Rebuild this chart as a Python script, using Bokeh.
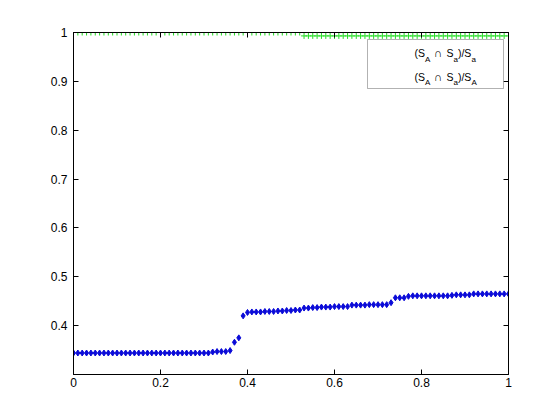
from bokeh.plotting import figure
from bokeh.models import LinearAxis, FixedTicker, Label, BoxAnnotation, Range1d
from bokeh.embed import file_html
from bokeh.resources import INLINE

# ---------------- data ----------------
X = [i / 100 for i in range(101)]

# (S_A ∩ S_a)/S_a  -- blue diamonds
RATIO_SA = [
    0.344, 0.344, 0.344, 0.344, 0.344, 0.344, 0.344, 0.344, 0.344, 0.344,
    0.344, 0.344, 0.344, 0.344, 0.344, 0.344, 0.344, 0.344, 0.344, 0.344,
    0.344, 0.344, 0.344, 0.344, 0.344, 0.344, 0.344, 0.344, 0.344, 0.344,
    0.344, 0.344, 0.346, 0.347, 0.347, 0.347, 0.349, 0.366, 0.375, 0.420,
    0.427, 0.428, 0.428, 0.428, 0.429, 0.429, 0.429, 0.430, 0.430, 0.431,
    0.431, 0.432, 0.432, 0.436, 0.436, 0.437, 0.437, 0.438, 0.438, 0.438,
    0.439, 0.439, 0.439, 0.439, 0.442, 0.442, 0.442, 0.442, 0.443, 0.443,
    0.443, 0.443, 0.443, 0.447, 0.457, 0.457, 0.457, 0.460, 0.461, 0.461,
    0.461, 0.461, 0.461, 0.461, 0.461, 0.461, 0.461, 0.462, 0.463, 0.463,
    0.463, 0.463, 0.465, 0.465, 0.465, 0.465, 0.465, 0.465, 0.465, 0.465,
    0.465,
]

# (S_A ∩ S_a)/S_A  -- green crosses
RATIO_SCAPA = [
    1.0, 1.0, 1.0, 1.0, 1.0, 1.0, 1.0, 1.0, 1.0, 1.0,
    1.0, 1.0, 1.0, 1.0, 1.0, 1.0, 1.0, 1.0, 1.0, 1.0,
    1.0, 1.0, 1.0, 1.0, 1.0, 1.0, 1.0, 1.0, 1.0, 1.0,
    1.0, 1.0, 1.0, 1.0, 1.0, 1.0, 1.0, 1.0, 1.0, 1.0,
    1.0, 1.0, 1.0, 1.0, 1.0, 1.0, 1.0, 1.0, 1.0, 1.0,
    1.0, 1.0, 1.0, 0.993, 0.993, 0.993, 0.993, 0.993, 0.993, 0.993,
    0.993, 0.993, 0.993, 0.993, 0.993, 0.993, 0.993, 0.993, 0.993, 0.993,
    0.993, 0.993, 0.993, 0.993, 0.993, 0.993, 0.993, 0.993, 0.993, 0.993,
    0.993, 0.993, 0.993, 0.993, 0.993, 0.993, 0.993, 0.993, 0.993, 0.993,
    0.993, 0.993, 0.993, 0.993, 0.993, 0.993, 0.993, 0.993, 0.993, 0.993,
    0.993,
]

X_TICKS = [0, 0.2, 0.4, 0.6, 0.8, 1.0]
X_TICK_LABELS = ["0", "0.2", "0.4", "0.6", "0.8", "1"]
Y_TICKS = [0.4, 0.5, 0.6, 0.7, 0.8, 0.9, 1.0]
Y_TICK_LABELS = ["0.4", "0.5", "0.6", "0.7", "0.8", "0.9", "1"]

# legend texts, split into (text, is_subscript) pieces
LEGEND_1 = [("(S", False), ("A", True), ("∩", False), ("S", False),
            ("a", True), (")/S", False), ("a", True)]
LEGEND_2 = [("(S", False), ("A", True), ("∩", False), ("S", False),
            ("a", True), (")/S", False), ("A", True)]

# ---------------- style / layout ----------------
BLUE = "#0a0ad8"
GREEN = "#22dd22"
FONT = "Liberation Sans"

FRAME_L, FRAME_T, FRAME_W, FRAME_H = 73, 32, 435, 342  # screenshot pixels
X0, X1, Y0, Y1 = 0.0, 1.0, 0.3, 1.0

p = figure(
    frame_width=FRAME_W, frame_height=FRAME_H,
    x_range=Range1d(X0, X1), y_range=Range1d(Y0, Y1),
    min_border_left=FRAME_L, min_border_top=FRAME_T,
    min_border_right=44, min_border_bottom=38,
    output_backend="svg", toolbar_location=None,
    background_fill_color="white", border_fill_color="white",
    x_axis_type=None, y_axis_type=None,
)
p.xgrid.visible = False
p.ygrid.visible = False
p.outline_line_color = "black"
p.outline_line_width = 1


def style_axis(ax, ticks, labels, show_labels, standoff):
    ax.ticker = FixedTicker(ticks=ticks)
    ax.major_label_overrides = {t: (lab if show_labels else "") for t, lab in zip(ticks, labels)}
    ax.major_tick_in = 5
    ax.major_tick_out = 0
    ax.minor_tick_in = 0
    ax.minor_tick_out = 0
    ax.axis_line_color = "black"
    ax.major_tick_line_color = "black"
    ax.major_label_text_font = FONT
    ax.major_label_text_font_size = "12px"
    ax.major_label_text_color = "black"
    ax.major_label_standoff = standoff


xb = LinearAxis(); style_axis(xb, X_TICKS, X_TICK_LABELS, True, 3)
yl = LinearAxis(); style_axis(yl, Y_TICKS, Y_TICK_LABELS, True, 6)
xt = LinearAxis(); style_axis(xt, X_TICKS, X_TICK_LABELS, False, 0)
yr = LinearAxis(); style_axis(yr, Y_TICKS, Y_TICK_LABELS, False, 0)
p.add_layout(xb, "below")
p.add_layout(yl, "left")
p.add_layout(xt, "above")
p.add_layout(yr, "right")

# data
p.scatter(X, RATIO_SA, marker="diamond", size=6, fill_color=BLUE,
          line_color=BLUE, line_width=1)
p.scatter(X, RATIO_SCAPA, marker="cross", size=6, line_color=GREEN,
          line_width=1)


# ---------------- legend (built by hand for the subscripts) ----------------
def dx(px):
    return X0 + (px - FRAME_L) / FRAME_W * (X1 - X0)


def dy(py):
    return Y1 - (py - FRAME_T) / FRAME_H * (Y1 - Y0)


box = BoxAnnotation(left=dx(367), right=dx(503), top=dy(39), bottom=dy(88),
                    fill_color="white", fill_alpha=1.0,
                    line_color="black", line_width=1, level="overlay")
p.add_layout(box)

r1 = p.scatter([dx(393)], [dy(50)], marker="diamond", size=6,
               fill_color=BLUE, line_color=BLUE, line_width=1)
r2 = p.scatter([dx(393)], [dy(74)], marker="cross", size=6,
               line_color=GREEN, line_width=1)
r1.level = "overlay"
r2.level = "overlay"

PIECE_X = [414, 424.5, 433.5, 446, 453, 457.4, 471]
PIECE_SIZE = ["10.5px", "8px", "11.5px", "10.5px", "8px", "10.5px", "8px"]
for pieces, base in ((LEGEND_1, 52.5), (LEGEND_2, 76)):
    for (txt, sub), px, fs in zip(pieces, PIECE_X, PIECE_SIZE):
        lab = Label(x=dx(px), y=dy(base + (6 if sub else 0)), text=txt,
                    text_font=FONT, text_font_size=fs,
                    text_color="black", text_align="left",
                    text_baseline="alphabetic", level="overlay")
        p.add_layout(lab)

open("out.html", "w").write(file_html(p, INLINE))
